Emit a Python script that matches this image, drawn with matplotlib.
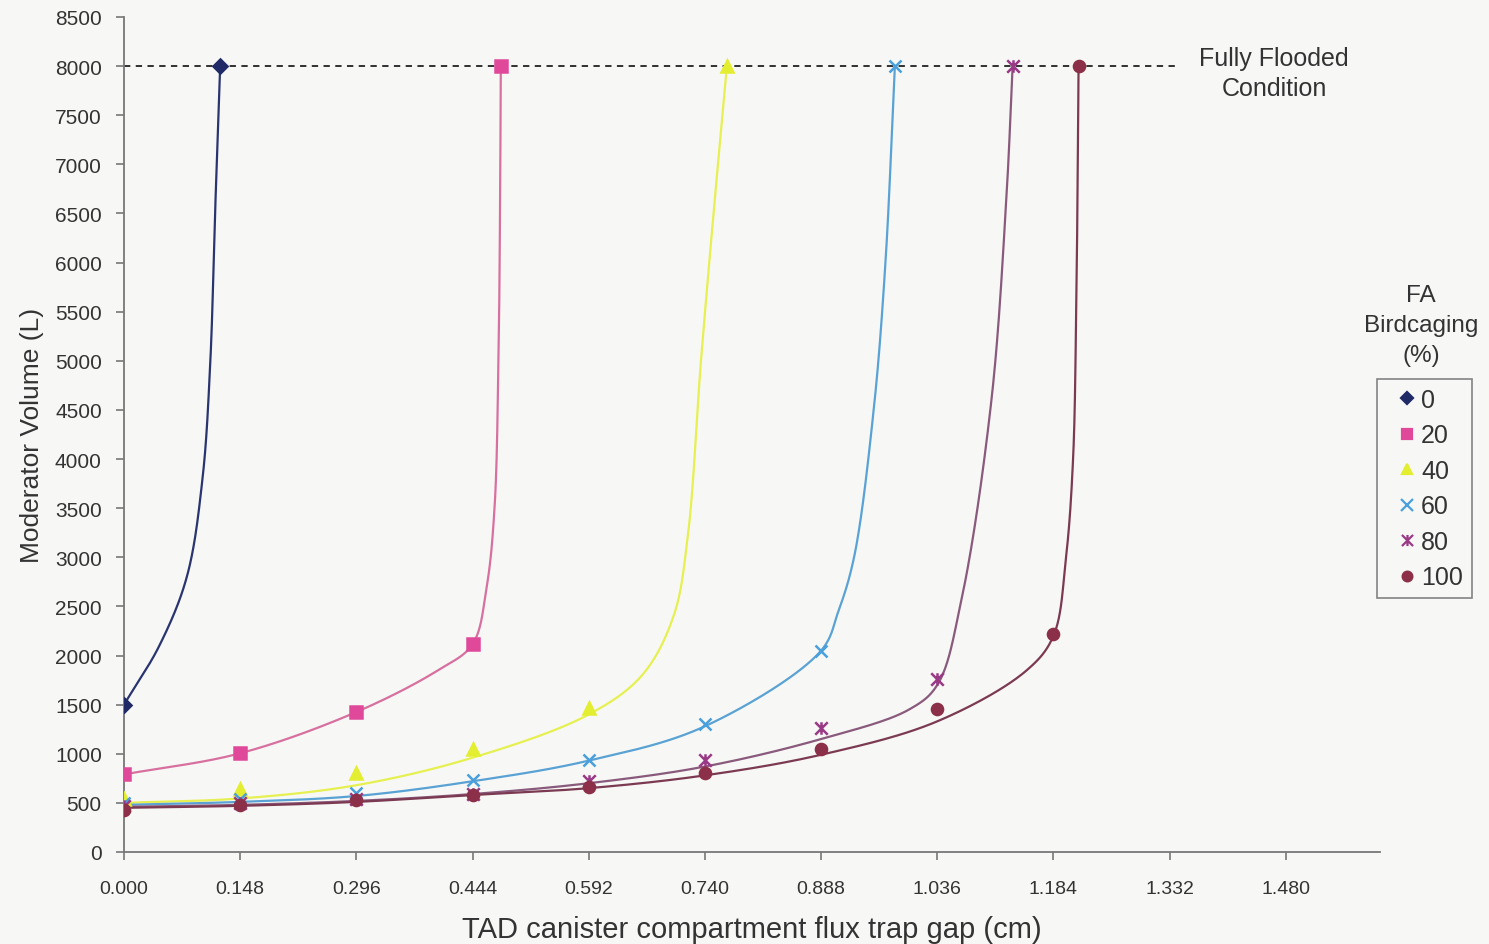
import numpy as np
import matplotlib.pyplot as plt
from matplotlib.path import Path
from matplotlib.lines import Line2D

plt.rcParams['font.family'] = ['Liberation Sans', 'DejaVu Sans']

# birdcaging levels (%)
labels = ['0', '20', '40', '60', '80', '100']

# computed points (gap in cm, moderator volume in L)
pts_x_0 = [0.000, 0.1225]
pts_y_0 = [1500, 8000]
pts_x_20 = [0.000, 0.148, 0.296, 0.444, 0.480]
pts_y_20 = [790, 1005, 1425, 2115, 8000]
pts_x_40 = [0.000, 0.148, 0.296, 0.444, 0.592, 0.768]
pts_y_40 = [540, 640, 800, 1050, 1470, 8000]
pts_x_60 = [0.000, 0.148, 0.296, 0.444, 0.592, 0.740, 0.888, 0.982]
pts_y_60 = [500, 540, 600, 730, 940, 1300, 2050, 8000]
pts_x_80 = [0.000, 0.148, 0.296, 0.444, 0.592, 0.740, 0.888, 1.036, 1.132]
pts_y_80 = [470, 500, 540, 590, 720, 940, 1260, 1760, 8000]
pts_x_100 = [0.000, 0.148, 0.296, 0.444, 0.592, 0.740, 0.888, 1.036, 1.184, 1.216]
pts_y_100 = [430, 480, 530, 580, 660, 800, 1050, 1460, 2220, 8000]

# trend curves drawn through the points
fit_x_0 = [0.000, 0.045, 0.080, 0.100, 0.110, 0.116, 0.1225]
fit_y_0 = [1500, 2100, 2800, 3800, 5000, 6500, 8000]
fit_x_20 = [0.000, 0.148, 0.296, 0.400, 0.444, 0.462, 0.472, 0.477, 0.479, 0.480]
fit_y_20 = [790, 1005, 1425, 1850, 2115, 2700, 3500, 5000, 6500, 8000]
fit_x_40 = [0.000, 0.148, 0.296, 0.444, 0.592, 0.660, 0.700, 0.718, 0.735, 0.751, 0.768]
fit_y_40 = [500, 545, 680, 960, 1400, 1800, 2400, 3200, 5000, 6500, 8000]
fit_x_60 = [0.000, 0.148, 0.296, 0.444, 0.592, 0.740, 0.888, 0.910, 0.930, 0.955, 0.970, 0.982]
fit_y_60 = [480, 510, 570, 720, 930, 1280, 2050, 2450, 3000, 4500, 6000, 8000]
fit_x_80 = [0.000, 0.148, 0.296, 0.444, 0.592, 0.740, 0.888, 1.000, 1.036, 1.067, 1.105, 1.124, 1.132]
fit_y_80 = [460, 480, 520, 590, 700, 870, 1150, 1450, 1700, 2576, 4600, 6650, 8000]
fit_x_100 = [0.000, 0.148, 0.296, 0.444, 0.592, 0.740, 0.888, 1.036, 1.150, 1.184, 1.200, 1.209, 1.213, 1.215, 1.216]
fit_y_100 = [450, 470, 510, 580, 650, 780, 990, 1330, 1850, 2200, 3000, 4000, 5500, 7000, 8000]

# fully flooded limit
flood_x = [0.0, 1.345]
flood_y = [8000, 8000]

xticks = [0.000, 0.148, 0.296, 0.444, 0.592, 0.740, 0.888, 1.036, 1.184, 1.332, 1.480]
yticks = list(range(0, 8501, 500))

# star marker: an x with a vertical bar through it
star = Path([(-1, -1), (1, 1), (-1, 1), (1, -1), (0, -1), (0, 1)],
            [Path.MOVETO, Path.LINETO, Path.MOVETO, Path.LINETO, Path.MOVETO, Path.LINETO])

marker_colors = ['#1f2a66', '#e0489a', '#e4ee30', '#4aa0dc', '#9a3a86', '#8b3048']
line_colors = ['#2a3570', '#d8709f', '#e6f050', '#5aa2d4', '#8a5a7c', '#7c3a52']
markers = ['D', 's', '^', 'x', star, 'o']
msizes = [7, 8, 8, 9, 9, 8]

pts_x = [pts_x_0, pts_x_20, pts_x_40, pts_x_60, pts_x_80, pts_x_100]
pts_y = [pts_y_0, pts_y_20, pts_y_40, pts_y_60, pts_y_80, pts_y_100]
fit_x = [fit_x_0, fit_x_20, fit_x_40, fit_x_60, fit_x_80, fit_x_100]
fit_y = [fit_y_0, fit_y_20, fit_y_40, fit_y_60, fit_y_80, fit_y_100]

XMAX, YMAX = 1.6, 8500
AX_W, AX_H = 1256, 835  # axes size in pixels


def smooth(xs, ys, n=40):
    # centripetal Catmull-Rom in screen space so the curves bend like the sheet's smoothing
    sx, sy = AX_W / XMAX, AX_H / YMAX
    P = np.column_stack([np.array(xs) * sx, np.array(ys) * sy])
    P = np.vstack([2 * P[0] - P[1], P, 2 * P[-1] - P[-2]])
    segs = []
    for i in range(1, len(P) - 2):
        p0, p1, p2, p3 = P[i - 1], P[i], P[i + 1], P[i + 2]
        t0 = 0.0
        t1 = t0 + np.linalg.norm(p1 - p0) ** 0.5
        t2 = t1 + np.linalg.norm(p2 - p1) ** 0.5
        t3 = t2 + np.linalg.norm(p3 - p2) ** 0.5
        t = np.linspace(t1, t2, n)[:, None]
        a1 = (t1 - t) / (t1 - t0) * p0 + (t - t0) / (t1 - t0) * p1
        a2 = (t2 - t) / (t2 - t1) * p1 + (t - t1) / (t2 - t1) * p2
        a3 = (t3 - t) / (t3 - t2) * p2 + (t - t2) / (t3 - t2) * p3
        b1 = (t2 - t) / (t2 - t0) * a1 + (t - t0) / (t2 - t0) * a2
        b2 = (t3 - t) / (t3 - t1) * a2 + (t - t1) / (t3 - t1) * a3
        segs.append((t2 - t) / (t2 - t1) * b1 + (t - t1) / (t2 - t1) * b2)
    C = np.vstack(segs)
    return C[:, 0] / sx, C[:, 1] / sy


fig = plt.figure(figsize=(14.89, 9.45), dpi=100, facecolor='#f7f8f6')
ax = fig.add_axes([124 / 1489, 1 - 853 / 945, AX_W / 1489, AX_H / 945])
ax.set_facecolor('#f7f8f6')

ax.plot(flood_x, flood_y, color='#222222', lw=1.3, dashes=(3.5, 3), zorder=2)

handles = []
for i in range(len(labels)):
    cx, cy = smooth(fit_x[i], fit_y[i])
    ax.plot(cx, cy, color=line_colors[i], lw=1.6, zorder=3)
    ax.plot(pts_x[i], pts_y[i], ls='none', marker=markers[i], ms=msizes[i],
            color=marker_colors[i], mec=marker_colors[i], mew=1.8, zorder=4)
    handles.append(Line2D([], [], ls='none', marker=markers[i], ms=msizes[i] - 1,
                          color=marker_colors[i], mec=marker_colors[i], mew=1.6))

ax.set_xlim(0, XMAX)
ax.set_ylim(0, YMAX)
ax.set_xticks(xticks)
ax.set_xticklabels([f'{v:.3f}' for v in xticks])
ax.set_yticks(yticks)
for s in ['top', 'right']:
    ax.spines[s].set_visible(False)
for s in ['left', 'bottom']:
    ax.spines[s].set_color('#777777')
    ax.spines[s].set_linewidth(1.3)
ax.tick_params(direction='out', length=6, width=1.2, color='#777777',
               labelcolor='#333333', pad=8)
ax.tick_params(axis='x', labelsize=14, pad=14)
ax.tick_params(axis='y', labelsize=15, pad=10)

ax.set_xlabel('TAD canister compartment flux trap gap (cm)', fontsize=21,
              color='#333333', labelpad=13)
ax.set_ylabel('Moderator Volume (L)', fontsize=19, color='#333333', labelpad=8)

fig.text(1274 / 1489, 1 - 74 / 945, 'Fully Flooded\nCondition', fontsize=18,
         color='#333333', ha='center', va='center', linespacing=1.3)
fig.text(1421 / 1489, 1 - 326 / 945, 'FA\nBirdcaging\n(%)', fontsize=17.5,
         color='#333333', ha='center', va='center', linespacing=1.45)

leg = fig.legend(handles, labels, loc='upper left',
                 bbox_to_anchor=(1377 / 1489, 1 - 380 / 945), fontsize=18,
                 frameon=True, fancybox=False, edgecolor='#666666',
                 handlelength=1.7, handletextpad=-0.28, labelspacing=0.46,
                 borderpad=0.35, borderaxespad=0)
leg.get_frame().set_facecolor('#f7f8f6')
leg.get_frame().set_linewidth(1.2)
for t in leg.get_texts():
    t.set_color('#333333')

fig.savefig('out.png', dpi=100, facecolor=fig.get_facecolor())
